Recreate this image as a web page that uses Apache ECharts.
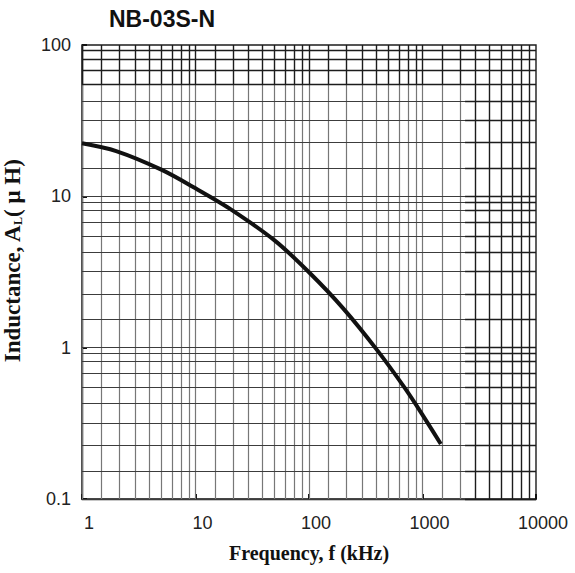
<!DOCTYPE html>
<html><head><meta charset="utf-8">
<script src="https://cdn.jsdelivr.net/npm/echarts@6/dist/echarts.min.js"></script>
<style>html,body{margin:0;padding:0;background:#fff}#c{width:575px;height:573px}</style>
</head><body><div id="c"></div>
<script>
// ---- data ----
const chartTitle = 'NB-03S-N';
const xAxisTitle = 'Frequency, f (kHz)';
const xTickLabels = [1, 10, 100, 1000, 10000];
const yTickLabels = [0.1, 1, 10, 100];
// curve
const frequency  = [1,    2,    5,    10,   20,  50,  100,  200,  400,  700,  1000, 1450];
const inductance = [22.4, 19.9, 15.0, 11.3, 8.3, 5.1, 3.15, 1.82, 0.96, 0.54, 0.36, 0.231];
// graph-paper lines inside one decade (as printed on the sheet)
const xGridPattern = [1, 1.49, 2.13, 2.93, 3.89, 4.97, 6.18, 7.45, 8.77];
const yGridPattern = [1, 1.53, 2.26, 3.18, 4.28, 5.47, 6.76, 8.08, 9.20];
const xDecades = [1, 10, 100, 1000];
const yDecades = [0.1, 1, 10];
const bandBottom = 54.7;   // lower edge of the dark top strip (y value)
const rightStart = 2370;   // left edge of the dark right strip (x value)

// ---- styles ----
const darkLine = {color: '#1c1c1c', width: 1.4, type: 'solid'};
const midLine  = {color: '#3c3c3c', width: 1.2, type: 'solid'};
const grayLine = {color: '#777777', width: 1.2, type: 'solid'};

const gridLines = [];
xDecades.forEach(d => xGridPattern.forEach(p => {
  const x = d * p;
  gridLines.push([{coord: [x, bandBottom], lineStyle: darkLine}, {coord: [x, 100]}]);
  gridLines.push([{coord: [x, 0.1], lineStyle: x >= rightStart ? darkLine : grayLine}, {coord: [x, bandBottom]}]);
}));
yDecades.forEach(d => yGridPattern.forEach(p => {
  const y = d * p;
  gridLines.push([{coord: [1, y], lineStyle: y >= bandBottom - 0.01 ? darkLine : midLine}, {coord: [rightStart, y]}]);
  gridLines.push([{coord: [rightStart, y], lineStyle: darkLine}, {coord: [10000, y]}]);
}));

const chart = echarts.init(document.getElementById('c'), null, {renderer: 'svg'});
chart.setOption({
  animation: false,
  backgroundColor: '#fff',
  title: {
    text: chartTitle, left: 157, top: 2, textAlign: 'center',
    textStyle: {fontFamily: 'Liberation Sans', fontWeight: 'bold', fontSize: 23, color: '#111'}
  },
  grid: {left: 82, top: 45, right: 39, bottom: 74, show: true, borderColor: '#1c1c1c', borderWidth: 1.4,
    containLabel: false, outerBoundsMode: 'none'},
  xAxis: {
    type: 'log', logBase: 10, min: 1, max: 10000,
    name: xAxisTitle, nameLocation: 'middle', nameGap: 44,
    nameTextStyle: {fontFamily: 'Liberation Serif', fontWeight: 'bold', fontSize: 20, color: '#111'},
    axisLine: {show: true, lineStyle: {color: '#1c1c1c', width: 1.4}},
    axisTick: {show: true, inside: true, length: 5, lineStyle: {color: '#111', width: 2}},
    splitLine: {show: false},
    axisLabel: {
      margin: 15, fontFamily: 'Liberation Sans', fontSize: 18, color: '#222', padding: [0, 0, 0, 14],
      formatter: v => { const s = xTickLabels.find(t => Math.abs(t - v) / t < 1e-6); return s === undefined ? '' : String(s); }
    }
  },
  yAxis: {
    type: 'log', logBase: 10, min: 0.1, max: 100,
    name: 'Inductance, A{sub|L}( μ H)', nameLocation: 'middle', nameGap: 58, nameRotate: 90,
    nameTextStyle: {fontFamily: 'Liberation Serif', fontWeight: 'bold', fontSize: 23, color: '#111', padding: [0, 0, 0, 22],
      rich: {sub: {fontFamily: 'Liberation Serif', fontWeight: 'bold', fontSize: 12, color: '#111', verticalAlign: 'bottom', padding: [10, 0, 0, 0]}}},
    axisLine: {show: true, lineStyle: {color: '#1c1c1c', width: 1.4}},
    axisTick: {show: true, inside: true, length: 5, lineStyle: {color: '#111', width: 2}},
    splitLine: {show: false},
    axisLabel: {
      margin: 11, fontFamily: 'Liberation Sans', fontSize: 18, color: '#222',
      formatter: v => { const s = yTickLabels.find(t => Math.abs(t - v) / t < 1e-6); return s === undefined ? '' : String(s); }
    }
  },
  series: [{
    type: 'line',
    data: frequency.map((f, i) => [f, inductance[i]]),
    smooth: 0.3, showSymbol: false, symbol: 'none',
    lineStyle: {color: '#111', width: 4},
    z: 5,
    markLine: {silent: true, symbol: ['none', 'none'], label: {show: false}, animation: false, z: 1, data: gridLines}
  }]
});
</script></body></html>
